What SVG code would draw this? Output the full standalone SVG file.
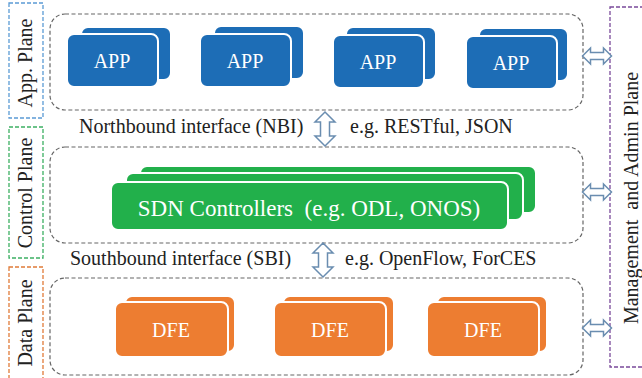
<svg xmlns="http://www.w3.org/2000/svg" width="642" height="378" viewBox="0 0 642 378">
<style>
text{font-family:"Liberation Serif","DejaVu Serif","Times New Roman",serif;}
.lbl{font-size:20px;fill:#222;}
.wt{fill:#fff;text-anchor:middle;font-size:20px;}
.big{font-size:23px;}
.plane{fill:none;stroke:#666;stroke-width:1.2;stroke-dasharray:4 2.5;}
.app{fill:#1d6db6;stroke:#fff;stroke-width:2;}
.sdn{fill:#22b04b;stroke:#fff;stroke-width:2;}
.dfe{fill:#ed7d31;stroke:#fff;stroke-width:2;}
.arr{fill:#fff;stroke:#6a8db0;stroke-width:1.5;stroke-linejoin:miter;}
</style>
<defs>
<path id="varrow" d="M0,-17 L10,-7 L4.5,-7 L4.5,7 L10,7 L0,17 L-10,7 L-4.5,7 L-4.5,-7 L-10,-7 Z"/>
<path id="harrow" d="M-14.5,0 L-6.5,-8 L-6.5,-3.5 L6.5,-3.5 L6.5,-8 L14.5,0 L6.5,8 L6.5,3.5 L-6.5,3.5 L-6.5,8 Z"/>
</defs>
<rect width="642" height="378" fill="#fff"/>

<g id="label-app">
<rect x="9" y="3" width="34" height="115" fill="none" stroke="#5b9bd5" stroke-width="1.3" stroke-dasharray="4 2"/>
<text class="lbl" transform="translate(32,63) rotate(-90)" text-anchor="middle">App. Plane</text>
</g>
<g id="label-control">
<rect x="9" y="127" width="34" height="131" fill="none" stroke="#3cb063" stroke-width="1.3" stroke-dasharray="4 2"/>
<text class="lbl" transform="translate(32,193) rotate(-90)" text-anchor="middle">Control Plane</text>
</g>
<g id="label-data">
<rect x="9" y="267" width="34" height="112" fill="none" stroke="#e07b39" stroke-width="1.3" stroke-dasharray="4 2"/>
<text class="lbl" transform="translate(32,323) rotate(-90)" text-anchor="middle">Data Plane</text>
</g>
<g id="label-mgmt">
<rect x="610" y="7" width="40" height="360" fill="none" stroke="#7a4a9a" stroke-width="1.3" stroke-dasharray="4 2"/>
<text class="lbl" transform="translate(638,198) rotate(-90)" text-anchor="middle" xml:space="preserve">Management  and Admin Plane</text>
</g>

<g id="app-plane">
<rect class="plane" x="50" y="14" width="533" height="96" rx="15"/>
<g id="app1"><rect class="app" x="81" y="27" width="90" height="53" rx="7"/><rect class="app" x="67" y="34" width="91" height="53" rx="7"/><text class="wt" x="112" y="68">APP</text></g>
<g id="app2"><rect class="app" x="214" y="26" width="90" height="53" rx="7"/><rect class="app" x="200" y="34" width="91" height="53" rx="7"/><text class="wt" x="245" y="68">APP</text></g>
<g id="app3"><rect class="app" x="346" y="27" width="90" height="53" rx="7"/><rect class="app" x="333" y="35" width="91" height="53" rx="7"/><text class="wt" x="378" y="69">APP</text></g>
<g id="app4"><rect class="app" x="479" y="28" width="89" height="53" rx="7"/><rect class="app" x="466" y="36" width="91" height="53" rx="7"/><text class="wt" x="511" y="70">APP</text></g>
</g>

<g id="control-plane">
<rect class="plane" x="50" y="147" width="533" height="96" rx="15"/>
<g id="sdn">
<rect class="sdn" x="140" y="166" width="396" height="47" rx="7"/>
<rect class="sdn" x="126" y="173" width="397" height="47" rx="7"/>
<rect class="sdn" x="111" y="182" width="397" height="48" rx="7"/>
<text class="wt big" x="309" y="216" xml:space="preserve">SDN Controllers  (e.g. ODL, ONOS)</text>
</g>
</g>

<g id="data-plane">
<rect class="plane" x="50" y="278" width="533" height="97" rx="15"/>
<g id="dfe1"><rect class="dfe" x="125" y="296" width="110" height="56" rx="7"/><rect class="dfe" x="115" y="302" width="113" height="55" rx="7"/><text class="wt" x="171" y="337">DFE</text></g>
<g id="dfe2"><rect class="dfe" x="283" y="296" width="111" height="56" rx="7"/><rect class="dfe" x="274" y="302" width="112" height="55" rx="7"/><text class="wt" x="330" y="337">DFE</text></g>
<g id="dfe3"><rect class="dfe" x="437" y="296" width="110" height="56" rx="7"/><rect class="dfe" x="427" y="302" width="112" height="55" rx="7"/><text class="wt" x="483" y="337">DFE</text></g>
</g>

<g id="connectors">
<use href="#varrow" class="arr" x="325" y="129"/>
<use href="#varrow" class="arr" x="323" y="260"/>
<use href="#harrow" class="arr" x="597" y="56"/>
<use href="#harrow" class="arr" x="597" y="192"/>
<use href="#harrow" class="arr" x="597" y="328"/>
</g>

<g id="interface-labels">
<text class="lbl" x="79" y="133">Northbound interface (NBI)</text>
<text class="lbl" x="350" y="133">e.g. RESTful, JSON</text>
<text class="lbl" x="70" y="265">Southbound interface (SBI)</text>
<text class="lbl" x="345" y="265">e.g. OpenFlow, ForCES</text>
</g>
</svg>
